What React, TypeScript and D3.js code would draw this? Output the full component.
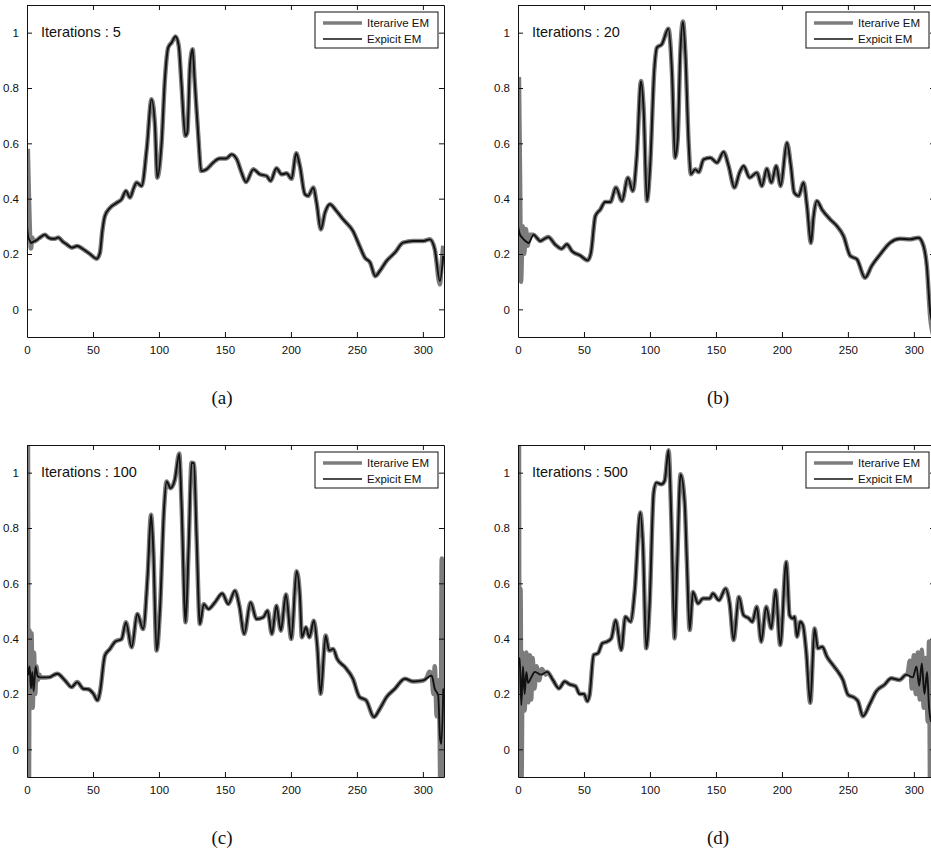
import React, { useEffect, useRef } from 'react';
import * as d3 from 'd3';

type Pt = [number, number];

// Explicit EM curves (x = sample index, y = value)
const explicitA: Pt[] = [
  [0, 0.30], [1, 0.26], [2, 0.25], [3, 0.24], [5, 0.245], [7.3, 0.25], [10, 0.26], [13.6, 0.27], [16, 0.26],
  [18.7, 0.255], [21, 0.255], [23.7, 0.26], [27, 0.245], [30, 0.235], [34, 0.223], [38, 0.229], [42.7, 0.217],
  [47.7, 0.2], [52.8, 0.183], [55.3, 0.205], [57, 0.28], [59, 0.337], [62.9, 0.367], [68, 0.385], [71.7, 0.398],
  [75, 0.428], [78, 0.404], [81, 0.44], [83, 0.458], [86.9, 0.446], [90.7, 0.578], [94.4, 0.759], [97, 0.663],
  [98.7, 0.476], [102, 0.602], [104.5, 0.831], [107, 0.946], [109.6, 0.964], [112.6, 0.986], [115, 0.952],
  [117, 0.819], [120, 0.627], [121.5, 0.639], [123.5, 0.88], [125.5, 0.94], [127, 0.831], [129.8, 0.627],
  [132, 0.5], [136, 0.506], [141, 0.53], [146, 0.545], [151, 0.545], [155, 0.56], [159, 0.542], [162.6, 0.494],
  [166, 0.46], [171.5, 0.506], [176.5, 0.488], [181.6, 0.482], [184.6, 0.464], [189, 0.51], [193, 0.488],
  [196.7, 0.492], [200.5, 0.472], [204, 0.564], [206.8, 0.518], [210.6, 0.416], [213, 0.41], [217, 0.44],
  [219.4, 0.386], [222.7, 0.289], [225.8, 0.349], [229.5, 0.38], [234.6, 0.355], [239.6, 0.325], [247, 0.283],
  [252, 0.229], [256, 0.187], [260, 0.169], [264, 0.12], [267.4, 0.139], [272.5, 0.175], [278.8, 0.205],
  [285, 0.241], [292.7, 0.247], [300.3, 0.247], [305.3, 0.253], [309, 0.217], [312.9, 0.102], [315.4, 0.193]
];

const explicitB: Pt[] = [
  [0, 0.30], [1.5, 0.27], [3, 0.26], [4.3, 0.253], [6, 0.245], [8, 0.24], [11.9, 0.27], [14, 0.26], [17, 0.247],
  [20, 0.255], [23, 0.261], [28, 0.235], [33, 0.219], [37, 0.235], [41, 0.21], [47, 0.195], [52.8, 0.177],
  [55.3, 0.205], [58.6, 0.337], [62.4, 0.361], [66, 0.388], [70, 0.388], [74.2, 0.44], [78.8, 0.392],
  [83.3, 0.476], [87, 0.428], [90, 0.554], [93.2, 0.825], [95.2, 0.723], [97.7, 0.392], [100, 0.506],
  [103.3, 0.867], [105.3, 0.946], [109, 0.958], [114, 1.014], [116.7, 0.855], [119, 0.548], [121, 0.614],
  [123, 0.928], [125, 1.04], [126.8, 0.928], [129.3, 0.602], [131, 0.488], [134.3, 0.506], [136.9, 0.496],
  [140.7, 0.542], [145.7, 0.548], [150.8, 0.53], [155.8, 0.569], [159.6, 0.518], [164, 0.44], [167.9, 0.494],
  [171, 0.518], [175.5, 0.476], [181, 0.494], [184.8, 0.446], [188.6, 0.508], [192, 0.458], [195.7, 0.518],
  [199, 0.446], [203.8, 0.602], [206.8, 0.518], [209.3, 0.422], [212.6, 0.41], [216.4, 0.458], [219, 0.373],
  [222, 0.24], [224, 0.337], [226.5, 0.392], [230.3, 0.361], [236.6, 0.325], [241.7, 0.301], [246.7, 0.265],
  [251.8, 0.193], [256.8, 0.181], [263, 0.114], [268, 0.157], [274.5, 0.199], [282, 0.241], [289.6, 0.255],
  [297, 0.253], [303.5, 0.259], [307.3, 0.229], [309.8, 0.157], [312.4, -0.01], [315, -0.06]
];

const explicitC: Pt[] = [
  [0, 0.31], [1, 0.27], [2, 0.3], [3, 0.22], [4, 0.28], [5, 0.21], [6.5, 0.3], [8, 0.265], [10, 0.26],
  [13.6, 0.26], [17.4, 0.261], [20, 0.268], [23, 0.273], [28.8, 0.249], [33.8, 0.225], [38, 0.243],
  [42.7, 0.219], [46.5, 0.217], [50.3, 0.201], [53.5, 0.177], [55.3, 0.207], [59, 0.339], [62.9, 0.363],
  [66.7, 0.389], [71.7, 0.399], [75, 0.459], [79.3, 0.369], [83.6, 0.489], [88, 0.435], [91.4, 0.626],
  [94, 0.848], [95.7, 0.722], [98.2, 0.357], [100.8, 0.507], [103.8, 0.866], [105.8, 0.968], [108.8, 0.944],
  [112, 0.974], [115.4, 1.069], [117, 0.902], [120.2, 0.459], [122.5, 0.734], [124.7, 1.036], [126.5, 1.034],
  [128.5, 0.77], [131, 0.453], [134, 0.525], [137.4, 0.507], [142.4, 0.531], [148, 0.563], [152.5, 0.525],
  [157.6, 0.573], [160.9, 0.519], [164.6, 0.417], [169.4, 0.531], [174, 0.471], [179, 0.477], [182.3, 0.501],
  [185.6, 0.417], [189, 0.519], [192.4, 0.429], [196.2, 0.56], [200.3, 0.399], [204.3, 0.644], [206.8, 0.554],
  [208.3, 0.405], [211.4, 0.441], [213.9, 0.405], [217.4, 0.465], [219.9, 0.375], [222.5, 0.201],
  [226.3, 0.411], [229, 0.357], [232, 0.363], [235, 0.327], [241, 0.297], [247, 0.255], [252, 0.189],
  [257, 0.177], [262.9, 0.117], [267.4, 0.147], [272.5, 0.189], [278.8, 0.219], [286.4, 0.255], [292.7, 0.245],
  [300.3, 0.249], [306.6, 0.267], [309, 0.219], [311.6, 0.195], [313, 0.04], [314, 0.02], [315.5, 0.22]
];

const explicitD: Pt[] = [
  [0, 0.3], [1.3, 0.33], [2.5, 0.16], [3.8, 0.3], [5, 0.2], [6.3, 0.28], [7.6, 0.24], [10, 0.26], [12.8, 0.28],
  [17.4, 0.27], [22, 0.28], [26.5, 0.25], [31, 0.22], [35.4, 0.245], [39, 0.235], [43.6, 0.228], [46.7, 0.2],
  [50, 0.2], [52.5, 0.174], [54.3, 0.198], [57.3, 0.341], [60.6, 0.347], [63.9, 0.383], [67.4, 0.389],
  [70.7, 0.401], [74, 0.467], [78.3, 0.359], [81.3, 0.479], [85.4, 0.461], [88.4, 0.569], [92.7, 0.856],
  [94.7, 0.737], [97.2, 0.365], [99.7, 0.521], [102.8, 0.928], [104.8, 0.964], [108.6, 0.958], [111.1, 0.97],
  [114.1, 1.081], [116.2, 0.832], [118.7, 0.401], [120.5, 0.653], [123.2, 0.994], [126.3, 0.892], [128, 0.677],
  [130.1, 0.431], [132.6, 0.569], [136.4, 0.527], [140.2, 0.545], [145.2, 0.545], [147.7, 0.563],
  [152.3, 0.539], [157.3, 0.581], [160.4, 0.527], [163.4, 0.395], [167.4, 0.551], [170.9, 0.485],
  [175, 0.473], [177.5, 0.461], [181, 0.515], [184.3, 0.389], [188.1, 0.515], [191.9, 0.437], [195.2, 0.575],
  [198.7, 0.377], [203.3, 0.677], [205.8, 0.485], [208.3, 0.473], [209.6, 0.479], [211.4, 0.407],
  [213.9, 0.461], [215.9, 0.449], [218.4, 0.353], [221.5, 0.168], [224.7, 0.437], [227.3, 0.365],
  [230.6, 0.371], [234.1, 0.335], [238.6, 0.305], [242.4, 0.281], [246.2, 0.251], [250, 0.198], [255.1, 0.186],
  [257.6, 0.174], [261.4, 0.12], [266.4, 0.162], [271.5, 0.21], [277.8, 0.234], [282.8, 0.257], [289.1, 0.251],
  [294.2, 0.27], [299.2, 0.26], [302, 0.3], [304, 0.23], [306, 0.31], [308, 0.2], [310, 0.28], [311.5, 0.15],
  [313, 0.1]
];

// Iterative EM: same curve in the middle, ringing at both ends
const iterLeftA: Pt[] = [[0.6, 0.58], [1.4, 0.42], [2.2, 0.28], [3, 0.22], [4, 0.26]];
const iterRightA: Pt[] = [[312.9, 0.09], [314, 0.15], [315.4, 0.23]];
const iterLeftB: Pt[] = [[0.7, 0.84], [1.5, 0.5], [2.3, 0.1], [3.5, 0.3], [4.7, 0.2], [6, 0.29], [7.3, 0.23], [8.8, 0.27]];
const iterRightB: Pt[] = [[312.4, -0.03], [315, -0.1]];
const iterLeftC: Pt[] = [
  [0.7, 1.3], [1.3, -0.3], [2, 0.43], [2.7, 0.2], [3.4, 0.42], [4.3, 0.15], [5.3, 0.35], [6.2, 0.2],
  [7.2, 0.3], [8.2, 0.25], [9.5, 0.27]
];
const iterRightC: Pt[] = [
  [303, 0.26], [305, 0.28], [306.6, 0.27], [308, 0.2], [309, 0.3], [310.5, 0.12], [312, 0.25],
  [312.6, 0.1], [313.4, -0.2], [314.3, 0.69], [315.2, -0.2]
];
const iterLeftD: Pt[] = [
  [0.7, 1.3], [1.3, -0.3], [1.9, 0.58], [2.7, -0.1], [3.5, 0.35], [5, 0.14], [6.3, 0.35], [7.8, 0.17], [9, 0.34],
  [10, 0.18], [11, 0.33], [12.5, 0.22], [14, 0.3], [16, 0.25], [18, 0.29], [21, 0.27]
];
const iterRightD: Pt[] = [
  [295, 0.27], [297, 0.32], [298.5, 0.22], [300, 0.34], [301.5, 0.2], [303, 0.35], [304.5, 0.18], [306, 0.36],
  [307.5, 0.15], [309, 0.33], [310.5, 0.1], [311.5, 0.39], [312.5, -0.3], [313.5, 0.39], [314.5, -0.3]
];

const xTicks = [0, 50, 100, 150, 200, 250, 300];
const yTicks = [0, 0.2, 0.4, 0.6, 0.8, 1];
const legendLabels = ['Iterarive EM', 'Expicit EM'];

const panels = [
  { tag: '(a)', iters: 5, explicit: explicitA, left: iterLeftA, right: iterRightA, x0: 27, y0: 5, lx: 222 },
  { tag: '(b)', iters: 20, explicit: explicitB, left: iterLeftB, right: iterRightB, x0: 518, y0: 5, lx: 718 },
  { tag: '(c)', iters: 100, explicit: explicitC, left: iterLeftC, right: iterRightC, x0: 27, y0: 445, lx: 222 },
  { tag: '(d)', iters: 500, explicit: explicitD, left: iterLeftD, right: iterRightD, x0: 518, y0: 445, lx: 718 }
];

const W = 931, H = 852;
const PW = 417, PH = 332;
const SANS = "'Liberation Sans', Arial, sans-serif";

const App = () => {
  const ref = useRef<SVGSVGElement>(null);

  useEffect(() => {
    const svg = d3.select(ref.current);
    svg.selectAll('*').remove();

    const x = d3.scaleLinear().domain([0, 316]).range([0, PW]);
    const y = d3.scaleLinear().domain([-0.1, 1.1]).range([PH, 0]);
    const line = d3.line<Pt>().x(d => x(d[0])).y(d => y(d[1])).curve(d3.curveMonotoneX);

    panels.forEach((p, i) => {
      const g = svg.append('g').attr('transform', `translate(${p.x0},${p.y0})`);

      const clipId = `clip-${i}`;
      g.append('clipPath').attr('id', clipId)
        .append('rect').attr('width', PW).attr('height', PH);

      const lastLeft = p.left[p.left.length - 1][0];
      const firstRight = p.right[0][0];
      const iterative: Pt[] = [
        ...p.left,
        ...p.explicit.filter(d => d[0] > lastLeft && d[0] < firstRight),
        ...p.right
      ];

      const lines = g.append('g').attr('clip-path', `url(#${clipId})`);
      lines.append('path')
        .attr('d', line(iterative))
        .attr('fill', 'none')
        .attr('stroke', '#7c7c7c')
        .attr('stroke-width', 4.5)
        .attr('stroke-linejoin', 'round');
      lines.append('path')
        .attr('d', line(p.explicit))
        .attr('fill', 'none')
        .attr('stroke', '#111')
        .attr('stroke-width', 1.9)
        .attr('stroke-linejoin', 'round');

      // box with inward ticks on all sides (matlab style)
      const bottom = g.append('g').attr('transform', `translate(0,${PH})`)
        .call(d3.axisBottom(x).tickValues(xTicks).tickSizeInner(-5).tickSizeOuter(0).tickPadding(9).tickFormat(d3.format('d')));
      const top = g.append('g')
        .call(d3.axisTop(x).tickValues(xTicks).tickSizeInner(-5).tickSizeOuter(0).tickFormat(() => ''));
      const leftAx = g.append('g')
        .call(d3.axisLeft(y).tickValues(yTicks).tickSizeInner(-5).tickSizeOuter(0).tickPadding(8).tickFormat(d => String(+d)));
      const rightAx = g.append('g').attr('transform', `translate(${PW},0)`)
        .call(d3.axisRight(y).tickValues(yTicks).tickSizeInner(-5).tickSizeOuter(0).tickFormat(() => ''));

      [bottom, top, leftAx, rightAx].forEach(ax => {
        ax.selectAll('path, line').attr('stroke', '#111').attr('stroke-width', 1);
        ax.selectAll('text').attr('fill', '#111').style('font-family', SANS).style('font-size', '11.5px');
      });

      g.append('text')
        .attr('x', 14).attr('y', 32)
        .style('font-family', SANS).style('font-size', '14.5px').attr('fill', '#111')
        .text(`Iterations : ${p.iters}`);

      // legend
      const lg = g.append('g').attr('transform', `translate(${PW - 129},7)`);
      lg.append('rect').attr('width', 123).attr('height', 36)
        .attr('fill', '#fff').attr('stroke', '#111').attr('stroke-width', 1);
      lg.append('line').attr('x1', 8).attr('x2', 47).attr('y1', 11).attr('y2', 11)
        .attr('stroke', '#7c7c7c').attr('stroke-width', 3.5);
      lg.append('line').attr('x1', 8).attr('x2', 47).attr('y1', 27).attr('y2', 27)
        .attr('stroke', '#111').attr('stroke-width', 1.3);
      legendLabels.forEach((t, k) => {
        lg.append('text').attr('x', 52).attr('y', 15 + k * 16)
          .style('font-family', SANS).style('font-size', '11.5px').attr('fill', '#111')
          .text(t);
      });

      svg.append('text')
        .attr('x', p.lx).attr('y', p.y0 + 399)
        .attr('text-anchor', 'middle')
        .style('font-family', "'Liberation Serif', 'Times New Roman', serif")
        .style('font-size', '19px').attr('fill', '#111')
        .text(p.tag);
    });
  }, []);

  return (
    <div style={{ position: 'absolute', left: 0, top: 0, background: '#fff' }}>
      <svg ref={ref} width={W} height={H} style={{ display: 'block' }} />
    </div>
  );
};

export default App;
